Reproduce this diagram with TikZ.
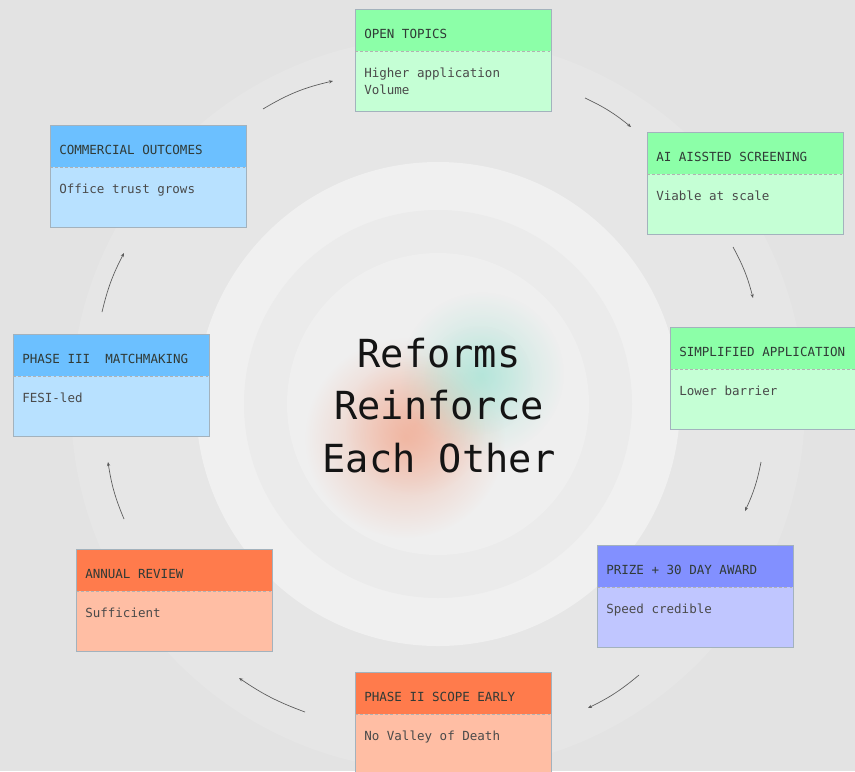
\documentclass[tikz,border=0pt]{standalone}
\usepackage{fontspec}
\newfontfamily\plex{DejaVu Sans Mono}
\usetikzlibrary{arrows.meta,fadings,calc}
\tikzfading[name=blobfade, inner color=transparent!0, outer color=transparent!100]
\definecolor{bgc}{HTML}{E3E3E3}
\definecolor{ringc}{HTML}{E6E6E6}
\definecolor{disc1}{HTML}{F0F0F0}
\definecolor{disc2}{HTML}{EBEBEB}
\definecolor{disc3}{HTML}{EFEFEF}
\definecolor{blobo}{HTML}{F29C7E}
\definecolor{blobt}{HTML}{98E2D0}
\definecolor{greenh}{HTML}{8CFFA8}
\definecolor{greenb}{HTML}{C5FFD5}
\definecolor{blueh}{HTML}{6CC0FF}
\definecolor{blueb}{HTML}{B8E1FF}
\definecolor{violh}{HTML}{8290FF}
\definecolor{violb}{HTML}{C0C6FF}
\definecolor{orangh}{HTML}{FF7B4C}
\definecolor{orangb}{HTML}{FFBEA4}
\definecolor{framec}{HTML}{A3B2BD}
\definecolor{titlec}{HTML}{303A36}
\definecolor{bodyc}{HTML}{4A4A4A}
\definecolor{arrowc}{HTML}{5A5A5A}
\newcommand{\cardbox}[7]{%
  \node[hdrbox, fill=#4, anchor=north west] (#1-h) at (#2,#3) {};
  \node[bodybox, fill=#5, anchor=north west] (#1) at (#1-h.south west) {};
  \draw[cardframe] (#1-h.north west) rectangle (#1.south east);
  \draw[sepline] (#1-h.south west) -- (#1-h.south east);
  \node[titletext, anchor=base west] (#1-t) at ($(#1-h.north west)+(9,29)$) {#6};
  \node[bodytext, anchor=base west] (#1-b) at ($(#1.north west)+(9,26)$) {#7};
}
\begin{document}
\begin{tikzpicture}[x=0.75pt,y=-0.75pt,
  hdrbox/.style={rectangle, minimum width=147pt, minimum height=31.5pt, inner sep=0pt, outer sep=0pt, draw=none},
  bodybox/.style={rectangle, minimum width=147pt, minimum height=45pt, inner sep=0pt, outer sep=0pt, draw=none},
  cardframe/.style={draw=framec, line width=0.7pt},
  sepline/.style={draw=black!30, line width=0.6pt, dash pattern=on 2.2pt off 1.6pt},
  titletext/.style={inner sep=0pt, font=\plex\fontsize{9.4}{11}\selectfont, text=titlec},
  bodytext/.style={inner sep=0pt, font=\plex\fontsize{9.4}{11}\selectfont, text=bodyc},
  bigtext/.style={inner sep=0pt, font=\plex\fontsize{29}{35}\selectfont, text=black!92},
  flow/.style={draw=arrowc, line width=0.5pt, -{Stealth[length=3pt,width=2.4pt]}}
]
\useasboundingbox (0,0) rectangle (855,771);
\clip (0,0) rectangle (855,771);
\fill[bgc] (0,0) rectangle (855,771);
\coordinate (c) at (438,404);
% faint outer ring
\fill[ringc] (c) circle[radius=367];
% inner discs
\fill[disc1] (c) circle[radius=242];
\fill[disc2] (c) circle[radius=194];
\fill[disc3] (c) circle[radius=151];
% colour blobs
\fill[blobo, path fading=blobfade, opacity=0.55] (405,438) circle[radius=100];
\fill[blobo, path fading=blobfade, opacity=0.35] (415,425) circle[radius=70];
\fill[blobt, path fading=blobfade, opacity=0.55] (482,374) circle[radius=82];
\fill[blobt, path fading=blobfade, opacity=0.25] (478,380) circle[radius=55];
% centre title
\node[bigtext, anchor=base] (t1) at (439,367) {Reforms};
\node[bigtext, anchor=base] (t2) at (439,419) {Reinforce};
\node[bigtext, anchor=base] (t3) at (439,472) {Each Other};
% cards
\cardbox{open}{355}{9}{greenh}{greenb}{OPEN TOPICS}{Higher application}
\node[bodytext, anchor=base west] (open-b2) at ($(open-b.base west)+(0,17)$) {Volume};
\cardbox{ai}{647}{132}{greenh}{greenb}{AI AISSTED SCREENING}{Viable at scale}
\cardbox{simpl}{670}{327}{greenh}{greenb}{SIMPLIFIED APPLICATION}{Lower barrier}
\cardbox{prize}{597}{545}{violh}{violb}{PRIZE + 30 DAY AWARD}{Speed credible}
\cardbox{ptwo}{355}{672}{orangh}{orangb}{PHASE II SCOPE EARLY}{No Valley of Death}
\cardbox{annual}{76}{549}{orangh}{orangb}{ANNUAL REVIEW}{Sufficient}
\cardbox{pthree}{13}{334}{blueh}{blueb}{PHASE III\ \ MATCHMAKING}{FESI-led}
\cardbox{comm}{50}{125}{blueh}{blueb}{COMMERCIAL OUTCOMES}{Office trust grows}
% flow arrows
\coordinate (a1s) at (585,98);  \coordinate (a1e) at (631,127);
\coordinate (a2s) at (733,247); \coordinate (a2e) at (753,298);
\coordinate (a3s) at (761,462); \coordinate (a3e) at (745,511);
\coordinate (a4s) at (639,675); \coordinate (a4e) at (588,708);
\coordinate (a5s) at (305,712); \coordinate (a5e) at (239,678);
\coordinate (a6s) at (124,519); \coordinate (a6e) at (108,462);
\coordinate (a7s) at (102,312); \coordinate (a7e) at (124,253);
\coordinate (a8s) at (263,109); \coordinate (a8e) at (333,81);
\draw[flow] (a1s) to[bend left=7] (a1e);
\draw[flow] (a2s) to[bend left=7] (a2e);
\draw[flow] (a3s) to[bend left=7] (a3e);
\draw[flow] (a4s) to[bend left=7] (a4e);
\draw[flow] (a5s) to[bend left=7] (a5e);
\draw[flow] (a6s) to[bend left=7] (a6e);
\draw[flow] (a7s) to[bend left=7] (a7e);
\draw[flow] (a8s) to[bend left=9] (a8e);
\end{tikzpicture}
\end{document}
